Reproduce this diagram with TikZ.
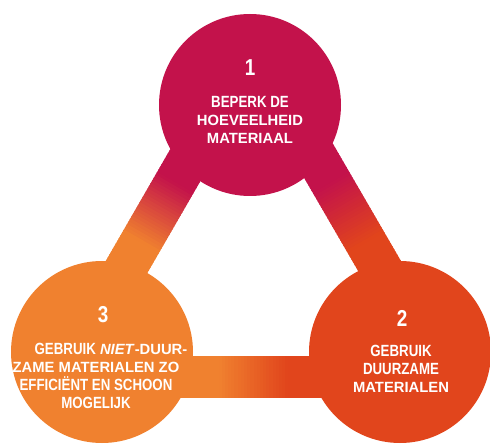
\documentclass[tikz,border=0pt]{standalone}
\usepackage{fontspec}
\setmainfont{Liberation Sans}
\newfontfamily\narrowfont[FakeStretch=0.82]{Liberation Sans}
\usetikzlibrary{calc}

\definecolor{crimson}{HTML}{C3124B}
\definecolor{redorange}{HTML}{E1451C}
\definecolor{lightorange}{HTML}{F0812F}

\tikzset{
	disc/.style={circle, minimum size=182pt, inner sep=0pt, draw=none},
	num/.style={text=white, font=\narrowfont\bfseries\fontsize{23}{23}\selectfont},
	lbl/.style={text=white, align=center, font=\bfseries\fontsize{14.8}{18}\selectfont},
	bandpiece/.style={line width=42pt, line cap=butt},
}
\newcommand{\narrowline}[1]{{\narrowfont\fontsize{16.2}{18}\selectfont #1}}

% band from #1 to #2, colour #3 turning into #4 halfway
\newcommand{\drawband}[4]{
	\foreach \i in {0,...,119} {
		\pgfmathsetmacro{\a}{\i/120}
		\pgfmathsetmacro{\b}{(\i+1.5)/120}
		\pgfmathtruncatemacro{\p}{100*max(0,min(1,(0.59-(\i+0.5)/120)/0.18))}
		\draw[bandpiece, color={#3!\p!#4}] ($(#1)!\a!(#2)$) -- ($(#1)!\b!(#2)$);
	}
}

\begin{document}
\begin{tikzpicture}[x=1pt, y=-1pt]
	\useasboundingbox (0,0) rectangle (490,446);

	% corners of the triangle the bands follow
	\coordinate (top) at (253,48);
	\coordinate (left) at (63,377);
	\coordinate (right) at (444,377);

	% draw bands, colour running from one circle to the next
	\drawband{top}{left}{crimson}{lightorange}
	\drawband{top}{right}{crimson}{redorange}
	\drawband{left}{right}{lightorange}{redorange}

	% draw circles
	\node[disc, fill=crimson] (c1) at (250,105) {};
	\node[disc, fill=redorange] (c2) at (400,352) {};
	\node[disc, fill=lightorange] (c3) at (102,352) {};

	% numbers and texts
	\node[num] (n1) at (250,68) {1};
	\node[lbl] (l1) at (250,120) {\narrowline{BEPERK DE}\\HOEVEELHEID\\MATERIAAL};

	\node[num] (n2) at (402,318) {2};
	\node[lbl] (l2) at (401,369) {\narrowline{GEBRUIK}\\\narrowline{DUURZAME}\\MATERIALEN};

	\node[num] (n3) at (103,315) {3};
	\node[lbl] (l3) at (96,376) {\hspace*{30pt}\narrowline{GEBRUIK} \textit{NIET}-DUUR-\\ZAME MATERIALEN ZO\\\narrowline{EFFICIËNT EN SCHOON}\\\narrowline{MOGELIJK}};
\end{tikzpicture}
\end{document}
